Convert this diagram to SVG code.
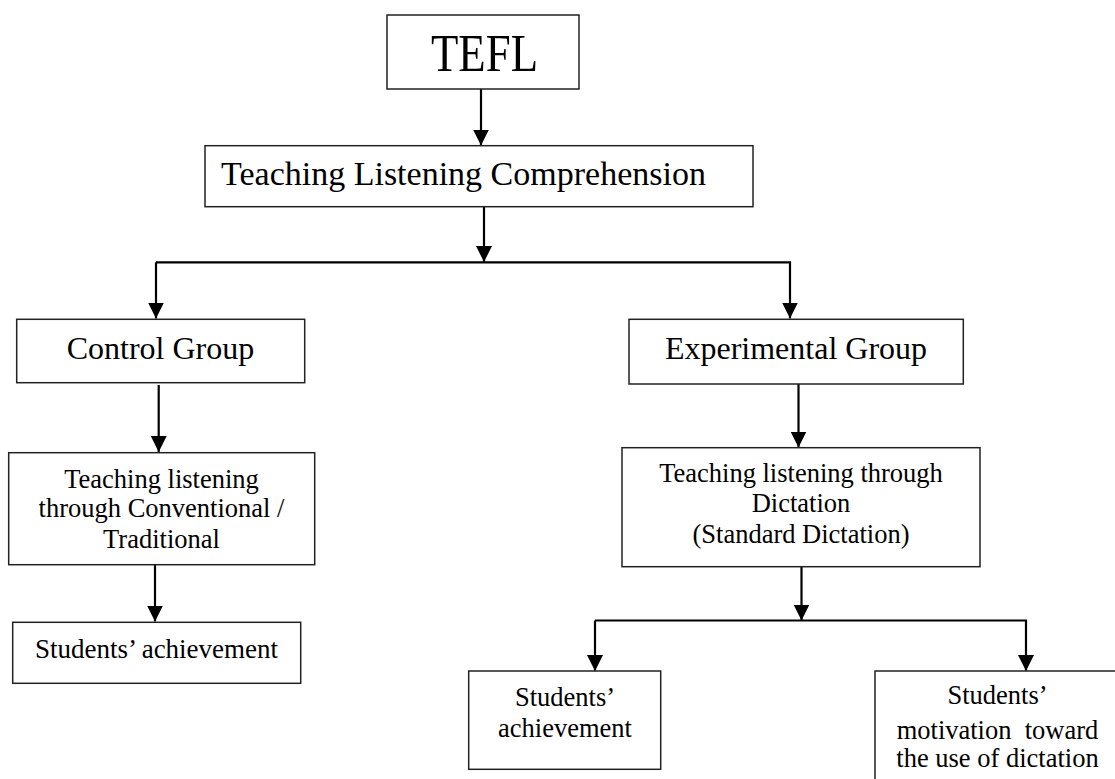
<svg xmlns="http://www.w3.org/2000/svg" width="1115" height="779" viewBox="0 0 1115 779">
<style>
.box{fill:#fff;stroke:#222;stroke-width:1.5}
.t{font-family:"Liberation Serif","Times New Roman",serif;fill:#000;text-anchor:middle}
.s26{font-size:26.5px}
.s32{font-size:32px}
.conn line,.conn polyline{stroke:#000;stroke-width:2.2;fill:none}
</style>
<defs>
<marker id="ah" markerWidth="16" markerHeight="16" refX="16" refY="8" orient="auto" markerUnits="userSpaceOnUse" viewBox="0 0 16 16">
<path d="M0,0 L16,8 L0,16 Z" fill="#000"/>
</marker>
</defs>
<rect width="1115" height="779" fill="#fff"/>
<g id="conn" class="conn">
<line x1="481" y1="89" x2="481" y2="145.5" marker-end="url(#ah)"/>
<line x1="484" y1="206.5" x2="484" y2="262" marker-end="url(#ah)"/>
<polyline points="156,262.3 790,262.3 790,318.5" marker-end="url(#ah)"/>
<line x1="156" y1="262.3" x2="156" y2="318.5" marker-end="url(#ah)"/>
<line x1="158.7" y1="385" x2="158.7" y2="452" marker-end="url(#ah)"/>
<line x1="155" y1="564.5" x2="155" y2="621.5" marker-end="url(#ah)"/>
<line x1="798.5" y1="384" x2="798.5" y2="447.5" marker-end="url(#ah)"/>
<line x1="801.5" y1="567" x2="801.5" y2="620.5" marker-end="url(#ah)"/>
<polyline points="595,620.5 1026,620.5 1026,671" marker-end="url(#ah)"/>
<line x1="595" y1="620.5" x2="595" y2="671" marker-end="url(#ah)"/>
</g>
<g id="tefl">
<rect class="box" x="387" y="15" width="192" height="74"/>
<text class="t" x="484.5" y="71" font-size="52" textLength="107" lengthAdjust="spacingAndGlyphs">TEFL</text>
</g>
<g id="tlc">
<rect class="box" x="205" y="145.7" width="548" height="61"/>
<text class="t" x="463.5" y="185" font-size="34">Teaching Listening Comprehension</text>
</g>
<g id="control">
<rect class="box" x="16.7" y="319.3" width="288" height="63.4"/>
<text class="t s32" x="160.5" y="359">Control Group</text>
</g>
<g id="conventional">
<rect class="box" x="8.7" y="452.7" width="306" height="112"/>
<text class="t s26" x="161.5" y="488.3">Teaching listening</text>
<text class="t s26" x="161.5" y="517.3">through Conventional /</text>
<text class="t s26" x="161.5" y="548.3">Traditional</text>
</g>
<g id="ach-control">
<rect class="box" x="12.7" y="622.3" width="288" height="61"/>
<text class="t" x="156.5" y="657.7" font-size="27">Students’ achievement</text>
</g>
<g id="experimental">
<rect class="box" x="629" y="319.3" width="334.3" height="64.7"/>
<text class="t s32" x="796" y="359.3">Experimental Group</text>
</g>
<g id="dictation">
<rect class="box" x="622" y="447.7" width="358" height="119"/>
<text class="t s26" x="801" y="481.7">Teaching listening through</text>
<text class="t s26" x="801" y="512.3">Dictation</text>
<text class="t s26" x="801" y="543.3">(Standard Dictation)</text>
</g>
<g id="ach-exp">
<rect class="box" x="468.7" y="671" width="192" height="98.3"/>
<text class="t s26" x="565" y="706">Students’</text>
<text class="t s26" x="565" y="736.7">achievement</text>
</g>
<g id="motivation">
<rect class="box" x="875" y="671" width="245" height="130"/>
<text class="t s26" x="997.5" y="704.3">Students’</text>
<text class="t s26" x="997.5" y="739.3" xml:space="preserve">motivation  toward</text>
<text class="t s26" x="997.5" y="766.7">the use of dictation</text>
</g>
</svg>
